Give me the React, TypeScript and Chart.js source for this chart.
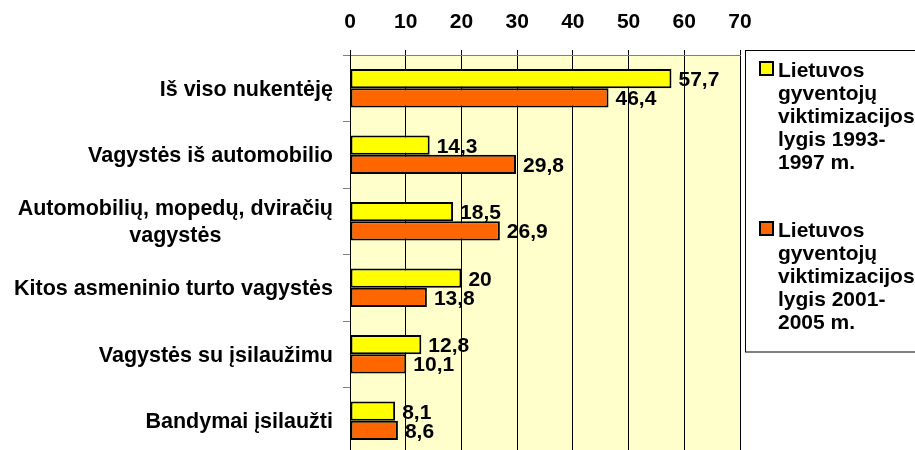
import React, { useEffect, useRef } from "react";
import { Chart, registerables } from "chart.js";

Chart.register(...registerables);

const categories: string[][] = [
  ["Iš viso nukentėję"],
  ["Vagystės iš automobilio"],
  ["Automobilių, mopedų, dviračių", "vagystės"],
  ["Kitos asmeninio turto vagystės"],
  ["Vagystės su įsilaužimu"],
  ["Bandymai įsilaužti"],
];
const series1993 = [57.7, 14.3, 18.5, 20, 12.8, 8.1];
const series2001 = [46.4, 29.8, 26.9, 13.8, 10.1, 8.6];
const legend1993 = ["Lietuvos", "gyventojų", "viktimizacijos", "lygis 1993-", "1997 m."];
const legend2001 = ["Lietuvos", "gyventojų", "viktimizacijos", "lygis 2001-", "2005 m."];
const xMin = 0;
const xMax = 70;
const xStep = 10;

const FONT = "'Liberation Sans', Arial, sans-serif";
const fmt = (v: number) => String(v).replace(".", ",");

const bgPlugin = {
  id: "plotBg",
  beforeDraw(chart: any) {
    const { ctx, chartArea: a } = chart;
    ctx.save();
    ctx.fillStyle = "#ffffff";
    ctx.fillRect(0, 0, chart.width, chart.height);
    ctx.fillStyle = "#FFFFCC";
    ctx.fillRect(a.left, a.top, a.right - a.left, a.bottom - a.top);
    ctx.restore();
  },
};

const yLabelPlugin = {
  id: "yLabels",
  afterDraw(chart: any) {
    const { ctx } = chart;
    const y = chart.scales.y;
    const labels = chart.data.labels as string[][];
    ctx.save();
    ctx.font = `bold 21.5px ${FONT}`;
    ctx.fillStyle = "#000";
    ctx.textAlign = "center";
    ctx.textBaseline = "alphabetic";
    const right = y.right - 7 - 10;
    const lh = 27;
    labels.forEach((lines, i) => {
      const yc = y.getPixelForValue(i);
      const maxW = Math.max(...lines.map((l) => ctx.measureText(l).width));
      const cx = right - maxW / 2;
      lines.forEach((l, k) => {
        ctx.fillText(l, cx, yc + 7.5 + (k - (lines.length - 1) / 2) * lh);
      });
    });
    ctx.restore();
  },
};

const valuePlugin = {
  id: "values",
  afterDatasetsDraw(chart: any) {
    const { ctx } = chart;
    ctx.save();
    ctx.font = `bold 21px ${FONT}`;
    ctx.fillStyle = "#000";
    ctx.textAlign = "left";
    ctx.textBaseline = "alphabetic";
    chart.data.datasets.forEach((ds: any, di: number) => {
      const meta = chart.getDatasetMeta(di);
      meta.data.forEach((bar: any, i: number) => {
        ctx.fillText(fmt(ds.data[i]), bar.x + 7, bar.y + 7.5);
      });
    });
    ctx.restore();
  },
};

const legendPlugin = {
  id: "customLegend",
  afterDraw(chart: any) {
    const { ctx } = chart;
    const a = chart.chartArea;
    ctx.save();
    const boxLeft = a.right + 5.5;
    ctx.strokeStyle = "#000";
    ctx.lineWidth = 1;
    ctx.strokeRect(boxLeft, 50.5, chart.width - boxLeft + 5, 301.5);
    ctx.font = `bold 21px ${FONT}`;
    ctx.textAlign = "left";
    ctx.textBaseline = "alphabetic";
    const blocks = [legend1993, legend2001];
    blocks.forEach((lines, b) => {
      const ds = chart.data.datasets[b];
      const base = 77 + b * 160;
      ctx.fillStyle = ds.backgroundColor;
      ctx.fillRect(760, base - 15, 13, 13);
      ctx.lineWidth = 2;
      ctx.strokeStyle = "#000";
      ctx.strokeRect(760, base - 15, 13, 13);
      ctx.fillStyle = "#000";
      lines.forEach((l, k) => ctx.fillText(l, 778, base + k * 23));
    });
    ctx.restore();
  },
};

export default function App() {
  const ref = useRef<HTMLCanvasElement>(null);
  useEffect(() => {
    if (!ref.current) return;
    const chart = new Chart(ref.current, {
      type: "bar",
      data: {
        labels: categories as any,
        datasets: [
          {
            label: legend1993.join(" "),
            data: series1993,
            backgroundColor: "#FFFF00",
            borderColor: "#000",
            borderWidth: 2,
            borderSkipped: false,
            categoryPercentage: 0.58,
            barPercentage: 1,
          },
          {
            label: legend2001.join(" "),
            data: series2001,
            backgroundColor: "#FF6600",
            borderColor: "#000",
            borderWidth: 2,
            borderSkipped: false,
            categoryPercentage: 0.58,
            barPercentage: 1,
          },
        ],
      },
      options: {
        indexAxis: "y",
        responsive: false,
        animation: false,
        devicePixelRatio: 1,
        layout: { padding: { left: 0, right: 175, top: 0, bottom: 0 } },
        plugins: { legend: { display: false }, tooltip: { enabled: false } },
        scales: {
          x: {
            position: "top",
            min: xMin,
            max: xMax,
            ticks: {
              stepSize: xStep,
              color: "#000",
              font: { family: FONT, size: 21, weight: "bold" },
              padding: 15,
            },
            grid: { color: "#000", lineWidth: 1, tickLength: 5, drawTicks: true },
            border: { display: true, color: "#808080", width: 1 },
            afterFit: (s: any) => {
              s.height = 55;
            },
          },
          y: {
            position: "left",
            ticks: { display: false },
            grid: {
              offset: true,
              drawOnChartArea: false,
              drawTicks: true,
              tickLength: 7,
              color: "#808080",
            },
            border: { display: true, color: "#000", width: 1 },
            afterFit: (s: any) => {
              s.width = 350;
            },
          },
        },
      },
      plugins: [bgPlugin, yLabelPlugin, valuePlugin, legendPlugin],
    } as any);
    return () => chart.destroy();
  }, []);
  return (
    <div
      style={{
        position: "fixed",
        left: 0,
        top: 0,
        width: 915,
        height: 450,
        overflow: "hidden",
        background: "#fff",
      }}
    >
      <canvas ref={ref} width={915} height={454} style={{ display: "block", width: 915, height: 454 }} />
    </div>
  );
}
